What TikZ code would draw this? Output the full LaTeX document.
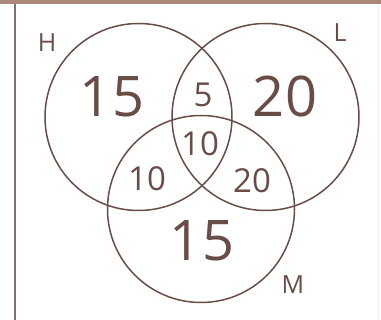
\documentclass[tikz,border=0pt]{standalone}
\usepackage{fontspec}
\setmainfont{Open Sans}

\begin{document}
\begin{tikzpicture}[x=1pt, y=-1pt, font=\fontsize{25}{30}\selectfont]
    \definecolor{vennbrown}{RGB}{105,76,70}
    \definecolor{framerose}{RGB}{170,136,124}

    \tikzset{
      setring/.style={draw=vennbrown, line width=1.5pt},
      bignum/.style={text=vennbrown, font=\fontsize{56}{60}\selectfont},
      smallnum/.style={text=vennbrown, font=\fontsize{33}{36}\selectfont},
      setname/.style={text=vennbrown, font=\fontsize{25}{30}\selectfont}
    }

    \useasboundingbox (0,0) rectangle (381,320);

    % frame
    \fill[framerose] (0,0) rectangle (381,4.5);
    \draw[vennbrown!80, line width=1.4pt] (15,4) -- (15,320);
    \draw[black!6, line width=0.8pt] (378,4) -- (378,320);

    % the three sets
    \draw[setring] (138.5,117) circle (93.5);
    \draw[setring] (265.5,117) circle (93.5);
    \draw[setring] (201,209) circle (93.5);

    \node[setname] (nameH) at (47,43) {H};
    \node[setname] (nameL) at (340,33) {L};
    \node[setname] (nameM) at (293,285) {M};

    \node[bignum] (onlyH) at (112,97) {15};
    \node[bignum] (onlyL) at (285,96) {20};
    \node[bignum] (onlyM) at (202,241) {15};

    \node[smallnum] (HL) at (203,95) {5};
    \node[smallnum] (HLM) at (200,144) {10};
    \node[smallnum] (HM) at (147,179) {10};
    \node[smallnum] (LM) at (252,181) {20};
  \end{tikzpicture}
\end{document}
